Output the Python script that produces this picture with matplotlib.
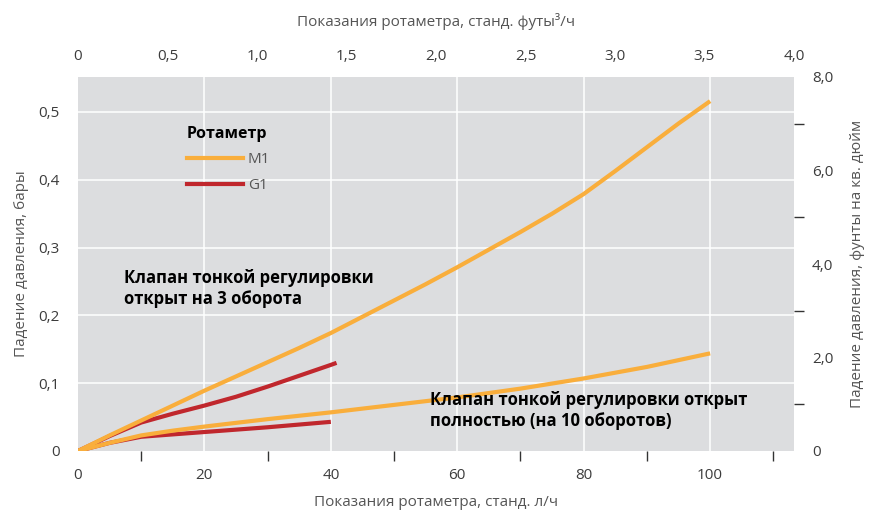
import numpy as np
import matplotlib
matplotlib.use("Agg")
import matplotlib.pyplot as plt
from matplotlib.ticker import FixedLocator, FuncFormatter
from matplotlib.lines import Line2D

plt.rcParams['font.family'] = ['Open Sans', 'DejaVu Sans']

# ---- data (flow in l/h, pressure drop in bar) ----
m1_3turn_x = [0, 5, 10, 15, 20, 25, 30, 35, 40, 45, 50, 55, 60, 65, 70, 75, 80, 85, 90, 95, 100]
m1_3turn_y = [0, 0.023, 0.045, 0.067, 0.089, 0.110, 0.131, 0.152, 0.174, 0.198, 0.222, 0.246, 0.271, 0.297, 0.323, 0.350, 0.379, 0.413, 0.448, 0.483, 0.516]

g1_3turn_x = [0, 5, 10, 15, 20, 25, 30, 35, 40, 40.9]
g1_3turn_y = [0, 0.022, 0.042, 0.055, 0.067, 0.080, 0.095, 0.111, 0.127, 0.130]

m1_full_x = [0, 5, 10, 15, 20, 30, 40, 50, 60, 70, 80, 90, 100]
m1_full_y = [0, 0.012, 0.023, 0.030, 0.036, 0.047, 0.057, 0.068, 0.079, 0.092, 0.107, 0.124, 0.144]

g1_full_x = [0, 5, 10, 20, 30, 40]
g1_full_y = [0, 0.012, 0.021, 0.028, 0.035, 0.043]

bottom_labels = [0, 20, 40, 60, 80, 100]
bottom_minor = [10, 20, 30, 40, 50, 60, 70, 80, 90, 100, 110]
top_labels = [0, 0.5, 1.0, 1.5, 2.0, 2.5, 3.0, 3.5, 4.0]
top_minor = [0.5, 1.0, 1.5, 2.0, 2.5, 3.0, 3.5]
left_labels = [0, 0.1, 0.2, 0.3, 0.4, 0.5]
left_minor = [0.1, 0.2, 0.3, 0.4, 0.5]
right_labels = [0, 2, 4, 6, 8]
right_minor = [1, 2, 3, 4, 5, 6, 7]

L_PER_FT3 = 28.3168
PSI_PER_BAR = 14.5038

ORANGE = '#F9AE3C'
RED = '#C0272D'
BG = '#DCDDDF'
TXT = '#3C3C3C'
LBL = '#555555'

fig = plt.figure(figsize=(8.69, 5.17), dpi=100)
ax = fig.add_axes([78 / 869, 1 - 451 / 517, (794 - 78) / 869, (451 - 77) / 517])
ax.set_facecolor(BG)
for s in ax.spines.values():
    s.set_visible(False)

ax.set_xlim(0, 4.0 * L_PER_FT3)
ax.set_ylim(0, 8.0 / PSI_PER_BAR)

# grid
for v in bottom_labels[1:]:
    ax.axvline(v, color='white', lw=1.1, zorder=0.5)
for v in left_labels[1:]:
    ax.axhline(v, color='white', lw=1.1, zorder=0.5)

# curves
ax.plot(m1_3turn_x, m1_3turn_y, color=ORANGE, lw=3, solid_capstyle='butt', solid_joinstyle='round', zorder=3)
ax.plot(m1_full_x, m1_full_y, color=ORANGE, lw=3, solid_capstyle='butt', solid_joinstyle='round', zorder=3)
ax.plot(g1_3turn_x, g1_3turn_y, color=RED, lw=3, solid_capstyle='butt', solid_joinstyle='round', zorder=2)
ax.plot(g1_full_x, g1_full_y, color=RED, lw=3, solid_capstyle='butt', solid_joinstyle='round', zorder=2)

def comma(v, pos=None):
    if abs(v) < 1e-9:
        return '0'
    return ('%.1f' % v).replace('.', ',')

TL = 7.5
FS = 11
# bottom axis
ax.xaxis.set_major_locator(FixedLocator(bottom_labels))
ax.xaxis.set_minor_locator(FixedLocator(bottom_minor))
ax.xaxis.set_major_formatter(FuncFormatter(lambda v, p: '%d' % round(v)))
ax.tick_params(axis='x', which='major', length=0, pad=12, labelsize=FS, labelcolor=TXT)
ax.tick_params(axis='x', which='minor', length=TL, width=1, color='#333333', direction='out')
# left axis
ax.yaxis.set_major_locator(FixedLocator(left_labels))
ax.yaxis.set_minor_locator(FixedLocator(left_minor))
ax.yaxis.set_major_formatter(FuncFormatter(comma))
ax.tick_params(axis='y', which='major', length=0, pad=13, labelsize=FS, labelcolor=TXT)
ax.tick_params(axis='y', which='minor', length=TL, width=1, color='#333333', direction='out')

ax.set_xlabel('Показания ротаметра, станд. л/ч', fontsize=FS, color=LBL, labelpad=9)
ax.set_ylabel('Падение давления, бары', fontsize=FS, color=LBL, labelpad=7)

# top axis
sx = ax.secondary_xaxis('top', functions=(lambda x: x / L_PER_FT3, lambda f: f * L_PER_FT3))
for s in sx.spines.values():
    s.set_visible(False)
sx.xaxis.set_major_locator(FixedLocator(top_labels))
sx.xaxis.set_minor_locator(FixedLocator(top_minor))
sx.xaxis.set_major_formatter(FuncFormatter(comma))
sx.tick_params(axis='x', which='major', length=0, pad=9, labelsize=FS, labelcolor=TXT)
sx.tick_params(axis='x', which='minor', length=TL + 1, width=1, color='#333333', direction='out')
sx.set_xlabel('Показания ротаметра, станд. футы³/ч', fontsize=FS, color=LBL, labelpad=17)

# right axis
sy = ax.secondary_yaxis('right', functions=(lambda b: b * PSI_PER_BAR, lambda p: p / PSI_PER_BAR))
for s in sy.spines.values():
    s.set_visible(False)
sy.yaxis.set_major_locator(FixedLocator(right_labels))
sy.yaxis.set_minor_locator(FixedLocator(right_minor))
sy.yaxis.set_major_formatter(FuncFormatter(comma))
sy.tick_params(axis='y', which='major', length=0, pad=13, labelsize=FS, labelcolor=TXT)
sy.tick_params(axis='y', which='minor', length=TL, width=1, color='#333333', direction='out')
sy.set_ylabel('Падение давления, фунты на кв. дюйм', fontsize=FS, color=LBL, labelpad=12)

# legend
handles = [Line2D([], [], color=ORANGE, lw=3), Line2D([], [], color=RED, lw=3)]
leg = ax.legend(handles, ['M1', 'G1'], title='Ротаметр', frameon=False,
                loc='upper left', bbox_to_anchor=(179 / 869, 1 - 118 / 517),
                bbox_transform=fig.transFigure, borderpad=0, handlelength=3.7,
                handletextpad=0.3, labelspacing=0.7, fontsize=FS,
                title_fontproperties={'weight': 'bold', 'size': 11.5})
leg._legend_box.align = 'left'
for t in leg.get_texts():
    t.set_color(LBL)

# annotations
ax.text(7.2, 0.268, 'Клапан тонкой регулировки\nоткрыт на 3 оборота',
        fontsize=12, fontweight='bold', color='black', va='top', ha='left', linespacing=1.2)
ax.text(55.7, 0.0885, 'Клапан тонкой регулировки открыт\nполностью (на 10 оборотов)',
        fontsize=12, fontweight='bold', color='black', va='top', ha='left', linespacing=1.2)

fig.savefig('out.png', dpi=100)
